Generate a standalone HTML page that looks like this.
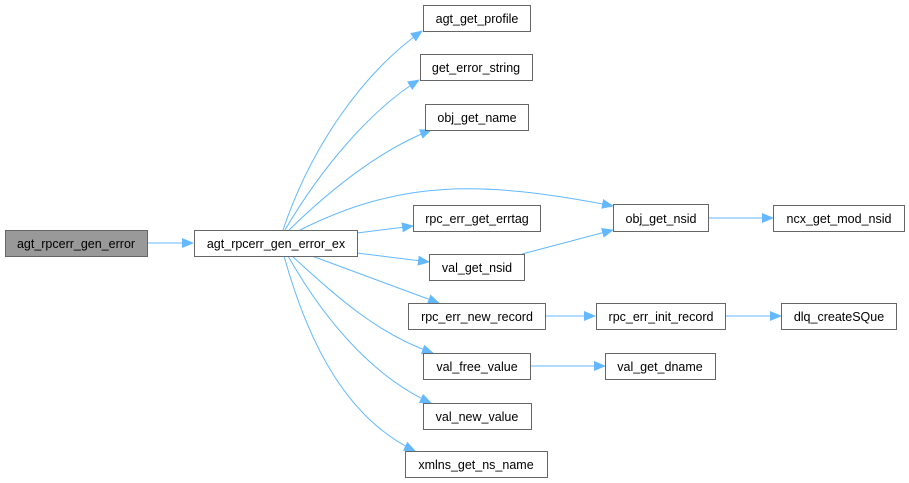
<!DOCTYPE html>
<html><head><meta charset="utf-8"><style>
html,body{margin:0;padding:0;background:#fff;}
svg{display:block;}
text{font-family:"Liberation Sans",Arial,sans-serif;font-size:12.5px;fill:#000;}
</style></head><body>
<svg width="909" height="483" viewBox="0 0 909 483" xmlns="http://www.w3.org/2000/svg">
<defs>
<marker id="a" markerWidth="12" markerHeight="10" refX="11" refY="5" orient="auto" markerUnits="userSpaceOnUse">
<path d="M0,0 L12,5 L0,10 Z" fill="#63b8ff"/>
</marker>
</defs>
<g fill="none" stroke="#63b8ff" stroke-width="1" marker-end="url(#a)">
<path d="M147,243 L193,243"/>
<path d="M283,230 C310,150 360,75 422,31"/>
<path d="M285,230 C320,170 370,110 419,80"/>
<path d="M289,230 C330,190 380,150 431,130"/>
<path d="M300,230 C400,180 480,180 613,206"/>
<path d="M357,233 L413,226"/>
<path d="M357,253 L429,262"/>
<path d="M312,256 L439,303"/>
<path d="M292,256 C340,300 380,335 433,353"/>
<path d="M288,256 C330,330 380,380 431,403"/>
<path d="M284,256 C310,350 350,420 415,451"/>
<path d="M522,254 L613,230"/>
<path d="M708,218 L773,218"/>
<path d="M545,316 L595,316"/>
<path d="M725,316 L781,316"/>
<path d="M530,366 L605,366"/>
</g>
<g stroke="#666" stroke-width="1">
<rect x="5.5" y="230.5" width="142" height="26" fill="#999"/>
<rect x="194.5" y="230.5" width="163" height="26" fill="#fff"/>
<rect x="423.5" y="5.5" width="107" height="26" fill="#fff"/>
<rect x="420.5" y="54.5" width="112" height="26" fill="#fff"/>
<rect x="425.5" y="104.5" width="103" height="26" fill="#fff"/>
<rect x="413.5" y="205.5" width="127" height="26" fill="#fff"/>
<rect x="429.5" y="254.5" width="95" height="26" fill="#fff"/>
<rect x="408.5" y="303.5" width="137" height="26" fill="#fff"/>
<rect x="423.5" y="353.5" width="107" height="26" fill="#fff"/>
<rect x="423.5" y="403.5" width="108" height="26" fill="#fff"/>
<rect x="405.5" y="451.5" width="142" height="26" fill="#fff"/>
<rect x="613.5" y="204.5" width="95" height="27" fill="#fff"/>
<rect x="773.5" y="205.5" width="131" height="26" fill="#fff"/>
<rect x="596.5" y="303.5" width="129" height="26" fill="#fff"/>
<rect x="781.5" y="303.5" width="115" height="26" fill="#fff"/>
<rect x="605.5" y="353.5" width="110" height="26" fill="#fff"/>
</g>
<g text-anchor="middle">
<text x="76" y="248">agt_rpcerr_gen_error</text>
<text x="276" y="248">agt_rpcerr_gen_error_ex</text>
<text x="477" y="23">agt_get_profile</text>
<text x="476" y="72">get_error_string</text>
<text x="477" y="122">obj_get_name</text>
<text x="477" y="223">rpc_err_get_errtag</text>
<text x="477" y="272">val_get_nsid</text>
<text x="477" y="321">rpc_err_new_record</text>
<text x="477" y="371">val_free_value</text>
<text x="477" y="421">val_new_value</text>
<text x="476" y="469">xmlns_get_ns_name</text>
<text x="661" y="223">obj_get_nsid</text>
<text x="839" y="223">ncx_get_mod_nsid</text>
<text x="661" y="321">rpc_err_init_record</text>
<text x="839" y="321">dlq_createSQue</text>
<text x="660" y="371">val_get_dname</text>
</g>
</svg>
</body></html>
